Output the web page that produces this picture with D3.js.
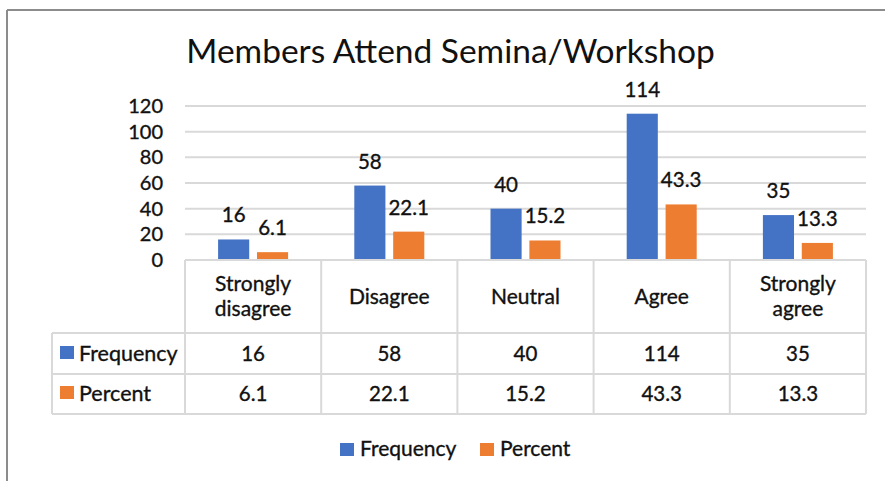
<!DOCTYPE html>
<html>
<head>
<meta charset="utf-8">
<script src="https://cdn.jsdelivr.net/npm/d3@7/dist/d3.min.js"></script>
<style>
  html, body { margin: 0; padding: 0; background: #fff; }
  svg { display: block; }
  text { font-family: Lato, "Open Sans", sans-serif; fill: #111; }
  text.lbl { stroke: #111; stroke-width: 0.35px; }
</style>
</head>
<body>
<svg id="chart" width="885" height="481"></svg>
<script>
const categories = [["Strongly", "disagree"], ["Disagree"], ["Neutral"], ["Agree"], ["Strongly", "agree"]];
const seriesNames = ["Frequency", "Percent"];
const frequency = [16, 58, 40, 114, 35];
const percent = [6.1, 22.1, 15.2, 43.3, 13.3];
const yTicks = [0, 20, 40, 60, 80, 100, 120];
const title = "Members Attend Semina/Workshop";
const colors = ["#4472C4", "#ED7D31"];

const series = [frequency, percent];
const svg = d3.select("#chart");
const W = 885, H = 481;

// frame
svg.append("line").attr("x1", 7).attr("x2", W).attr("y1", 10).attr("y2", 10)
  .attr("stroke", "#8c8c8c").attr("stroke-width", 2);
svg.append("line").attr("x1", 7).attr("x2", 7).attr("y1", 10).attr("y2", H)
  .attr("stroke", "#8c8c8c").attr("stroke-width", 2);

// title
svg.append("text").attr("x", 450.5).attr("y", 63).attr("text-anchor", "middle")
  .style("font-size", "33.5px").text(title);

const plotLeft = 185, plotRight = 866, plotTop = 106, plotBottom = 260;
const x = d3.scaleBand().domain(d3.range(categories.length)).range([plotLeft, plotRight]);
const y = d3.scaleLinear().domain([0, 120]).range([plotBottom, plotTop]);
const xs = d3.scaleBand().domain(d3.range(series.length)).range([0, 70]).paddingInner(0.2);

// gridlines
svg.append("g").selectAll("line").data(yTicks.filter(d => d > 0)).join("line")
  .attr("x1", plotLeft).attr("x2", plotRight)
  .attr("y1", d => y(d)).attr("y2", d => y(d))
  .attr("stroke", "#d9d9d9").attr("stroke-width", 2);

// y axis
const yAxis = svg.append("g").attr("transform", `translate(${plotLeft},0)`)
  .call(d3.axisLeft(y).tickValues(yTicks).tickSize(0).tickPadding(22));
yAxis.select(".domain").remove();
yAxis.selectAll("text").attr("class", "lbl").style("font-size", "20px").attr("fill", "#111")
  .style("font-family", "Lato, sans-serif");

// bars
const groups = svg.append("g").selectAll("g").data(categories).join("g")
  .attr("transform", (d, i) => `translate(${x(i) + x.bandwidth() / 2 - 35},0)`);
series.forEach((vals, s) => {
  groups.append("rect")
    .attr("x", xs(s)).attr("width", xs.bandwidth())
    .attr("y", (d, i) => y(vals[i]))
    .attr("height", (d, i) => y(0) - y(vals[i]))
    .attr("fill", colors[s]);
  groups.append("text").attr("class", "lbl")
    .attr("x", xs(s) + xs.bandwidth() / 2)
    .attr("y", (d, i) => y(vals[i]) - 17)
    .attr("text-anchor", "middle")
    .style("font-size", "20.5px")
    .text((d, i) => vals[i]);
});

// data table
const tableLeft = 52;
const rowY = [260, 333, 374, 414];
const gridColor = "#d9d9d9";
const tg = svg.append("g");
tg.append("line").attr("x1", plotLeft).attr("x2", plotRight).attr("y1", rowY[0]).attr("y2", rowY[0])
  .attr("stroke", gridColor).attr("stroke-width", 2);
[rowY[1], rowY[2], rowY[3]].forEach(yy => {
  tg.append("line").attr("x1", tableLeft).attr("x2", plotRight).attr("y1", yy).attr("y2", yy)
    .attr("stroke", gridColor).attr("stroke-width", 2);
});
d3.range(categories.length + 1).forEach(i => {
  const xx = i < categories.length ? x(i) : plotRight;
  tg.append("line").attr("x1", xx).attr("x2", xx).attr("y1", rowY[0]).attr("y2", rowY[3])
    .attr("stroke", gridColor).attr("stroke-width", 2);
});
tg.append("line").attr("x1", tableLeft).attr("x2", tableLeft).attr("y1", rowY[1]).attr("y2", rowY[3])
  .attr("stroke", gridColor).attr("stroke-width", 2);

// header labels
categories.forEach((lines, i) => {
  const cx = x(i) + x.bandwidth() / 2;
  const t = tg.append("text").attr("class", "lbl").attr("text-anchor", "middle").style("font-size", "21px");
  if (lines.length === 1) {
    t.append("tspan").attr("x", cx).attr("y", 304).text(lines[0]);
  } else {
    t.append("tspan").attr("x", cx).attr("y", 291).text(lines[0]);
    t.append("tspan").attr("x", cx).attr("y", 316).text(lines[1]);
  }
});
// value rows
series.forEach((vals, s) => {
  const base = s === 0 ? 361 : 401;
  vals.forEach((v, i) => {
    tg.append("text").attr("class", "lbl").attr("x", x(i) + x.bandwidth() / 2).attr("y", base)
      .attr("text-anchor", "middle").style("font-size", "20.5px").text(v);
  });
  tg.append("rect").attr("x", 60).attr("y", base - 15).attr("width", 14).attr("height", 13)
    .attr("fill", colors[s]);
  tg.append("text").attr("class", "lbl").attr("x", 79).attr("y", base).style("font-size", "21.5px").text(seriesNames[s]);
});

// legend
const legX = [340, 480];
seriesNames.forEach((n, s) => {
  svg.append("rect").attr("x", legX[s]).attr("y", 443).attr("width", 14).attr("height", 13)
    .attr("fill", colors[s]);
  svg.append("text").attr("class", "lbl").attr("x", legX[s] + 20).attr("y", 456).style("font-size", "21px").text(n);
});
</script>
</body>
</html>
